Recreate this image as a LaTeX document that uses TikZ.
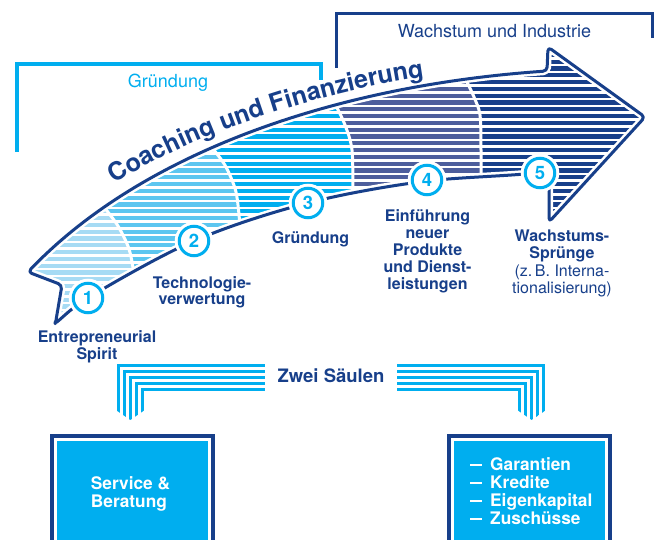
\documentclass[tikz,border=0pt]{standalone}
\usepackage{fontspec}
\setmainfont{TeX Gyre Heros}
\usetikzlibrary{decorations.text}

\definecolor{navy}{HTML}{173F8A}
\definecolor{sky}{HTML}{00AEEF}
\definecolor{segA}{HTML}{A6DBF4}
\definecolor{segB}{HTML}{5CC6F0}
\definecolor{segC}{HTML}{00AEEF}
\definecolor{segD}{HTML}{4D5E9C}
\definecolor{segE}{HTML}{173F8A}

\newcommand\fsz[2]{\fontsize{#1}{#2}\selectfont}
\newcommand\bardash{\rule[4.6pt]{11.5pt}{2.6pt}}

% outline of the curved arrow (pixel-like units, y pointing down)
\def\arrowpath{(28,272) .. controls (140,155) and (330,86) .. (547,71)
  -- (548,47) -- (645,117) -- (549,222) -- (549,184)
  -- plot[smooth, tension=0.55] coordinates {(541,175) (428,181) (308,203) (194,241) (88,298) (55,326)}
  -- (62,285) -- cycle}

\begin{document}
\begin{tikzpicture}[x=1pt, y=-1pt,
  lbl/.style={anchor=base, inner sep=0pt, text=navy},
  stepcircle/.style={circle, draw=sky, line width=3pt, fill=white,
    minimum size=29.5pt, inner sep=0pt, text=sky, font=\bfseries\fsz{18.5}{18.5},
    preaction={draw=white, line width=9pt}},
  frame/.style={rectangle, draw=navy, line width=4pt, fill=white, outer sep=0pt,
    inner sep=0pt, minimum width=161pt, minimum height=140pt, anchor=north west},
  boxtext/.style={anchor=base west, inner sep=0pt, text=white, font=\bfseries\fsz{17.3}{17.3}},
  bracket/.style={line width=3.2pt},
  pillar/.style={sky, line width=3.3pt},
  gap/.style={white, line width=2.6pt},
  seam/.style={white, line width=3pt}
]
\useasboundingbox (0,0) rectangle (657,540);
\clip (0,0) rectangle (657,540);

% phase brackets at the top
\draw[bracket, sky] (17,152) -- (17,64) -- (321,64) -- (321,80);
\node[lbl, text=sky, font=\fsz{18}{18}] (phaseA) at (168,88) {Gründung};
\draw[bracket, navy, line width=3pt] (336,68) -- (336,14) -- (652,14) -- (652,38);
\node[lbl, font=\fsz{18}{18}] (phaseB) at (494.5,37.5) {Wachstum und Industrie};

% striped arrow body
\begin{scope}
  \clip \arrowpath;
  \fill[segE] (0,0) rectangle (657,400);
  \fill[segD] (0,0) -- (462,0) -- plot[smooth] coordinates {(462,72) (466,80) (474,97) (480,115) (481,150) (481,195)} -- (481,400) -- (0,400) -- cycle;
  \fill[segC] (0,0) -- (328,0) -- plot[smooth] coordinates {(328,94) (334,102) (345,125) (352,150) (353,196) (353,212)} -- (353,400) -- (0,400) -- cycle;
  \fill[segB] (0,0) -- (208,0) -- plot[smooth] coordinates {(208,142) (214,150) (226,167) (236,192) (240,226) (241,248)} -- (241,400) -- (0,400) -- cycle;
  \fill[segA] (0,0) -- (96,0) -- plot[smooth] coordinates {(96,196) (104,207) (118,226) (129,249) (134,275) (135,300)} -- (135,400) -- (0,400) -- cycle;
  \foreach \k in {0,...,52}
    \draw[gap] (0,{38+6.8*\k}) -- (657,{38+6.8*\k});
  \draw[seam] plot[smooth] coordinates {(96,196) (104,207) (118,226) (129,249) (134,275) (135,300)};
  \draw[seam] plot[smooth] coordinates {(208,142) (214,150) (226,167) (236,192) (240,226) (241,248)};
  \draw[seam] plot[smooth] coordinates {(328,94) (334,102) (345,125) (352,150) (353,196) (353,212)};
  \draw[seam] plot[smooth] coordinates {(462,72) (466,80) (474,97) (480,115) (481,150) (481,195)};
\end{scope}
\draw[white, line width=8pt, line join=round, rounded corners=4pt] \arrowpath;
\draw[navy, line width=3pt, line join=round, rounded corners=4pt] \arrowpath;

% title along the arrow
\path[decorate, decoration={text along path, text align=left,
  text={|\bfseries\fsz{25}{25}\color{navy}|Coaching und Finanzierung}}]
  (115,184) .. controls (190,134) and (330,88) .. (440,75);

% numbered steps
\node[stepcircle] (s1) at (88,298) {1};
\node[stepcircle] (s2) at (194,241) {2};
\node[stepcircle] (s3) at (308,203) {3};
\node[stepcircle] (s4) at (427,180) {4};
\node[stepcircle] (s5) at (540,173) {5};

% step labels
\node[lbl, font=\bfseries\fsz{16}{16}] (t1) at (97,343)
  {\begin{tabular}[t]{@{}c@{}}Entrepreneurial\\Spirit\end{tabular}};
\node[lbl, font=\bfseries\fsz{16}{16}] (t2) at (202,289)
  {\begin{tabular}[t]{@{}c@{}}Technologie-\\verwertung\end{tabular}};
\node[lbl, font=\bfseries\fsz{16}{16}] (t3) at (310.5,244) {Gründung};
\node[lbl, font=\bfseries\fsz{16}{17}] (t4) at (427.5,221.5)
  {\begin{tabular}[t]{@{}c@{}}Einführung\\neuer\\Produkte\\und Dienst-\\leistungen\end{tabular}};
\node[lbl, font=\fsz{16}{17.3}] (t5) at (562,241.7)
  {\begin{tabular}[t]{@{}c@{}}\bfseries Wachstums-\\\bfseries Sprünge\\(z.\,B. Interna-\\tionalisierung)\end{tabular}};

% two pillars
\node[lbl, font=\bfseries\fsz{18.5}{18.5}] (pillars) at (331,382.7) {Zwei Säulen};
\foreach \side in {1,-1}{
  \begin{scope}[shift={({331-331*\side},0)}, xscale=\side]
    \clip (90,330) -- (290,330) -- (290,398) -- (162.2,398) -- (130.3,420) -- (98.4,398) -- (90,398) -- cycle;
    \foreach \i in {0,...,4}
      \draw[pillar] ({118.3+6*\i},430) -- ({118.3+6*\i},{365.3+6*\i}) -- (265,{365.3+6*\i});
  \end{scope}
}

\node[frame] (svcbox) at (52,436) {};
\fill[sky] ([shift={(5,5)}]svcbox.north west) rectangle ([shift={(-5,-5)}]svcbox.south east);
\node[boxtext] (svc) at (90.7,489.3)
  {\begin{tabular}[t]{@{}l@{}}Service \&\\Beratung\end{tabular}};

\node[frame] (finbox) at (449,436) {};
\fill[sky] ([shift={(5,5)}]finbox.north west) rectangle ([shift={(-5,-5)}]finbox.south east);
\node[boxtext] (fin) at (470,470.7)
  {\begin{tabular}[t]{@{}l@{\hspace{8.5pt}}l@{}}\bardash&Garantien\\\bardash&Kredite\\\bardash&Eigenkapital\\\bardash&Zuschüsse\end{tabular}};
\end{tikzpicture}
\end{document}
